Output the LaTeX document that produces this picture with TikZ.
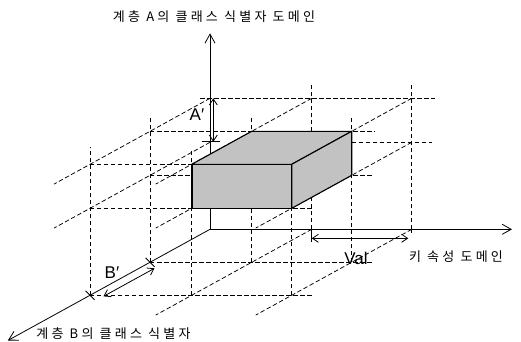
\documentclass[tikz,border=0pt]{standalone}
\usepackage{fontspec}
\newfontfamily\kfont{Noto Sans CJK KR}[LetterSpace=25]
\newfontfamily\lfont{Liberation Sans}
\usetikzlibrary{arrows.meta}
\begin{document}
\begin{tikzpicture}[x=1pt,y=1pt,z={(-60pt,-33pt)},
  grid/.style={line width=0.75pt, dash pattern=on 4.5pt off 2.5pt},
  axis/.style={line width=0.8pt},
  edge/.style={line width=1.1pt},
  dim/.style={line width=0.8pt, {Straight Barb[length=6pt,width=8pt]}-{Straight Barb[length=6pt,width=8pt]}},
  axarrow/.style={line width=0.8pt, -{Straight Barb[length=9pt,width=10pt]}},
  ktext/.style={font=\kfont\fontsize{13}{15}\selectfont, inner sep=0pt},
  ltext/.style={font=\lfont\fontsize{17}{19}\selectfont, inner sep=0pt},
  boxface/.style={fill=black!24, draw=black, line width=1.1pt, line join=round}]
\useasboundingbox (-210,-111.7) rectangle (311,229.3);
% named points
\coordinate (O) at (0,0,0);
\coordinate (Atop) at (0,196,0);
\coordinate (Xend) at (302,0,0);
\coordinate (Zend) at (0,0,3.37);
\coordinate (F1) at (101.7,87,2);
\coordinate (F2) at (201.7,87,2);
\coordinate (F3) at (201.7,131,2);
\coordinate (F4) at (101.7,131,2);
\coordinate (B2) at (201.7,87,1);
\coordinate (B3) at (201.7,131,1);
\coordinate (B4) at (101.7,131,1);
\coordinate (T1) at (0,0,1);
\coordinate (T2) at (0,0,2);
% vertical grid lines
\foreach \z in {0,1,2}{
  \foreach \x in {101.7,201.7}{
    \draw[grid] (\x,0,\z) -- (\x,147,\z);
  }
}
\draw[grid] (201.7,0,0) -- (201.7,-4,0);
\draw[grid] (0,0,1) -- (0,146,1);
\draw[grid] (0,0,2) -- (0,148,2);
% horizontal grid lines
\draw[grid] (-10,131,0) -- (225,131,0);
\draw[grid] (141.7,87,0) -- (222,87,0);
\draw[grid] (0,131,1) -- (225,131,1);
\draw[grid] (0,87,1) -- (223,87,1);
\draw[grid] (0,0,1) -- (222,0,1);
\draw[grid] (0,131,2) -- (101.7,131,2);
\draw[grid] (0,87,2) -- (222,87,2);
\draw[grid] (0,0,2) -- (222,0,2);
% depth grid lines
\foreach \x in {0,101.7,201.7}{
  \foreach \y in {131,87}{
    \draw[grid] (\x,\y,0) -- (\x,\y,2.6);
  }
}
\draw[grid] (101.7,0,0) -- (101.7,0,2.6);
\draw[grid] (201.7,0,0) -- (201.7,0,2.6);
% axes
\draw[axarrow] (O) -- (Atop);
\draw[axarrow] (O) -- (Xend);
\draw[axarrow] (O) -- (Zend);
% box
\draw[boxface] (F1) -- (F2) -- (F3) -- (F4) -- cycle;
\draw[boxface] (F4) -- (F3) -- (B3) -- (B4) -- cycle;
\draw[boxface] (F2) -- (B2) -- (B3) -- (F3) -- cycle;
\draw[line width=2pt] (F1) -- (F4);
% A' dimension
\coordinate (Aa) at (3.3,131,0);
\coordinate (Ab) at (3.3,87.6,0);
\draw[dim] (Aa) -- (Ab);
\draw[axis] (-8.3,87.6,0) -- (10,87.6,0);
% Val dimension
\coordinate (Va) at (101.7,-9,0);
\coordinate (Vb) at (198.3,-9,0);
\draw[dim] (Va) -- (Vb);
\draw[axis] (101.7,4,0) -- (101.7,-12.7,0);
% B' dimension
\coordinate (Ba) at (4.5,-6,1);
\coordinate (Bb) at (4.5,-6,1.85);
\draw[dim] (Ba) -- (Bb);
\draw[axis] (T1) ++(-4.5,4.5) -- ++(9,-9);
\draw[axis] (T2) ++(-4.5,4.5) -- ++(9,-9);
% labels
\node[ktext] (ta) at (4,212.3) {계층 A의 클래스 식별자 도메인};
\node[ktext] (tb) at (-96.5,-104.7) {계층 B의 클래스 식별자};
\node[ktext] (tk) at (246,-27.7) {키 속성 도메인};
\node[ltext] (lv) at (146,-29) {Val};
\node[ltext] (la) at (-13,114.3) {A′};
\node[ltext] (lb) at (-98,-43.7) {B′};
\end{tikzpicture}
\end{document}
